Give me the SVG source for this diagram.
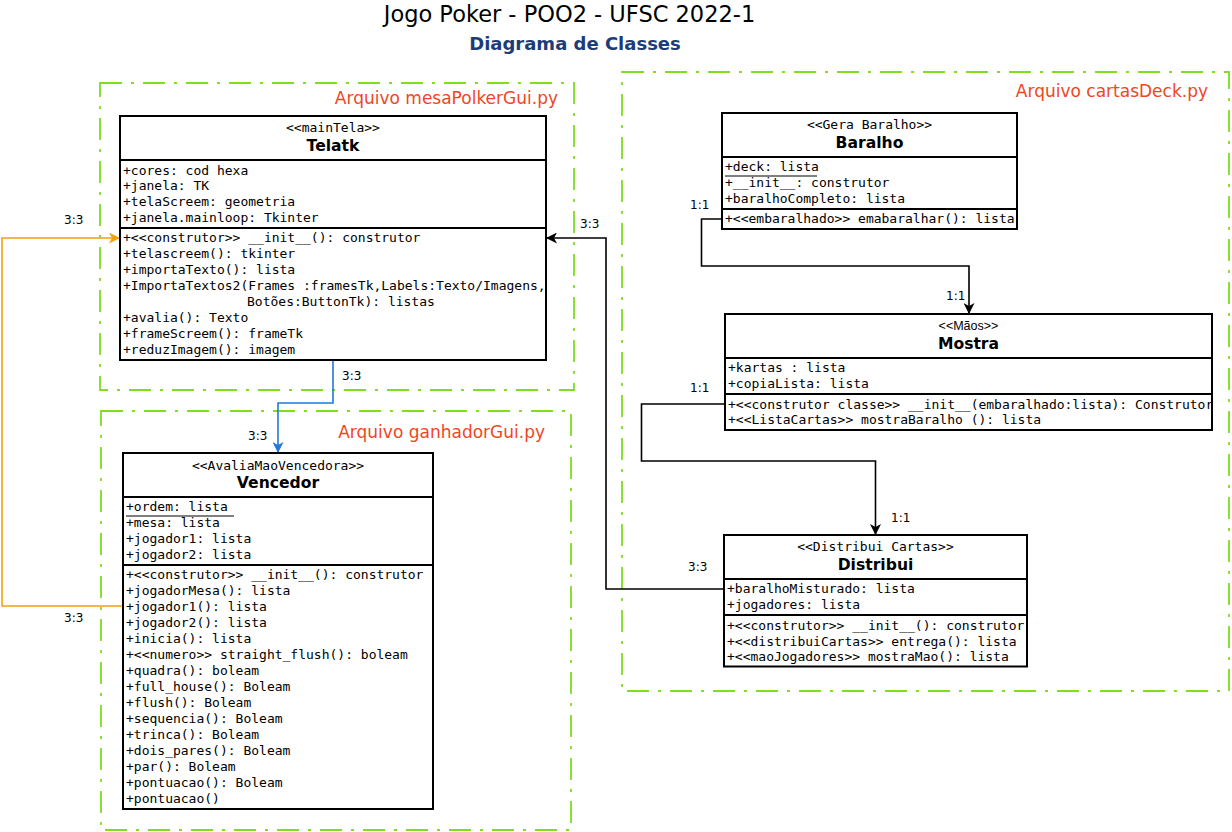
<svg xmlns="http://www.w3.org/2000/svg" width="1232" height="832" viewBox="0 0 1232 832">
  <defs>
    <style>
      .frame { fill: none; stroke: #80DD20; stroke-width: 1.8; stroke-dasharray: 22 9 3 9; }
      .file { font-family: "DejaVu Sans", sans-serif; font-size: 17px; fill: #F0461E; text-anchor: end; }
      .box { fill: #fff; stroke: #000; stroke-width: 2; }
      .sep { stroke: #000; stroke-width: 2; }
      .ul { stroke: #000; stroke-width: 1; }
      .m { font-family: "DejaVu Sans Mono", monospace; font-size: 13px; fill: #000; }
      .st { font-family: "DejaVu Sans Mono", monospace; font-size: 13px; fill: #000; text-anchor: middle; }
      .st2 { font-family: "Liberation Sans", sans-serif; font-size: 12.5px; fill: #000; text-anchor: middle; }
      .nm { font-family: "DejaVu Sans", sans-serif; font-size: 15.6px; font-weight: bold; fill: #000; text-anchor: middle; }
      .lbl { font-family: "DejaVu Sans", sans-serif; font-size: 12px; fill: #000; }
      .edge { fill: none; stroke-width: 1.6; }
    </style>
    <marker id="arrBlack" viewBox="0 0 11 11" refX="11" refY="5.5" markerWidth="11" markerHeight="11" markerUnits="userSpaceOnUse" orient="auto">
      <path d="M0,0 L11,5.5 L0,11 L3,5.5 Z" fill="#000"/>
    </marker>
    <marker id="arrOrange" viewBox="0 0 11 11" refX="11" refY="5.5" markerWidth="11" markerHeight="11" markerUnits="userSpaceOnUse" orient="auto">
      <path d="M0,0 L11,5.5 L0,11 L3,5.5 Z" fill="#F0A30A"/>
    </marker>
    <marker id="arrBlue" viewBox="0 0 11 11" refX="11" refY="5.5" markerWidth="11" markerHeight="11" markerUnits="userSpaceOnUse" orient="auto">
      <path d="M0,0 L11,5.5 L0,11 L3,5.5 Z" fill="#2378D8"/>
    </marker>
  </defs>

  <rect width="1232" height="832" fill="#fff"/>

  <!-- titles -->
  <text x="569.5" y="22" font-family="DejaVu Sans, sans-serif" font-size="22.5" text-anchor="middle" fill="#000">Jogo Poker - POO2 - UFSC 2022-1</text>
  <text x="575" y="50" font-family="DejaVu Sans, sans-serif" font-size="18" font-weight="bold" text-anchor="middle" fill="#1C3C78">Diagrama de Classes</text>

  <!-- file frames -->
  <g id="frame-mesa">
    <rect class="frame" x="100" y="83" width="474" height="307"/>
    <text class="file" x="558" y="104">Arquivo mesaPolkerGui.py</text>
  </g>
  <g id="frame-ganhador">
    <rect class="frame" x="101" y="411" width="470" height="419"/>
    <text class="file" x="545" y="438">Arquivo ganhadorGui.py</text>
  </g>
  <g id="frame-cartas">
    <rect class="frame" x="622" y="72" width="607" height="619"/>
    <text class="file" x="1208" y="97">Arquivo cartasDeck.py</text>
  </g>

  <!-- connectors -->
  <g id="connectors">
    <path class="edge" stroke="#F0A30A" d="M123,606 H2 V238 H120" marker-end="url(#arrOrange)"/>
    <text class="lbl" x="64" y="224">3:3</text>
    <text class="lbl" x="64" y="622">3:3</text>

    <path class="edge" stroke="#2378D8" d="M333,360 V403 H278 V453" marker-end="url(#arrBlue)"/>
    <text class="lbl" x="342" y="380">3:3</text>
    <text class="lbl" x="248" y="440">3:3</text>

    <path class="edge" stroke="#000" d="M724,589 H606 V238 H546" marker-end="url(#arrBlack)"/>
    <text class="lbl" x="580" y="228">3:3</text>
    <text class="lbl" x="688" y="571">3:3</text>

    <path class="edge" stroke="#000" d="M722,219 H701.5 V266 H969 V314" marker-end="url(#arrBlack)"/>
    <text class="lbl" x="690" y="209">1:1</text>
    <text class="lbl" x="946" y="300">1:1</text>

    <path class="edge" stroke="#000" d="M725,404 H641.5 V461 H875.5 V535" marker-end="url(#arrBlack)"/>
    <text class="lbl" x="690" y="392">1:1</text>
    <text class="lbl" x="891" y="522">1:1</text>
  </g>

  <!-- class Telatk -->
  <g id="telatk">
    <rect class="box" x="120" y="116" width="426" height="244"/>
    <line class="sep" x1="120" y1="160" x2="546" y2="160"/>
    <line class="sep" x1="120" y1="228" x2="546" y2="228"/>
    <text class="st" x="333" y="132">&lt;&lt;mainTela&gt;&gt;</text>
    <text class="nm" x="333" y="151">Telatk</text>
    <text class="m" x="123" y="174.5">+cores: cod hexa</text>
    <text class="m" x="123" y="190">+janela: TK</text>
    <text class="m" x="123" y="206">+telaScreem: geometria</text>
    <text class="m" x="123" y="222">+janela.mainloop: Tkinter</text>
    <text class="m" x="123" y="242">+&lt;&lt;construtor&gt;&gt; __init__(): construtor</text>
    <text class="m" x="123" y="258">+telascreem(): tkinter</text>
    <text class="m" x="123" y="274">+importaTexto(): lista</text>
    <text class="m" x="123" y="290">+ImportaTextos2(Frames :framesTk,Labels:Texto/Imagens,</text>
    <text class="m" x="247" y="306">Botões:ButtonTk): listas</text>
    <text class="m" x="123" y="322">+avalia(): Texto</text>
    <text class="m" x="123" y="338">+frameScreem(): frameTk</text>
    <text class="m" x="123" y="354">+reduzImagem(): imagem</text>
  </g>

  <!-- class Vencedor -->
  <g id="vencedor">
    <rect class="box" x="123" y="453" width="310" height="356"/>
    <line class="sep" x1="123" y1="497" x2="433" y2="497"/>
    <line class="sep" x1="123" y1="565" x2="433" y2="565"/>
    <text class="st" x="278" y="469.5">&lt;&lt;AvaliaMaoVencedora&gt;&gt;</text>
    <text class="nm" x="278" y="488">Vencedor</text>
    <text class="m" x="126" y="511">+ordem: lista</text>
    <line class="ul" x1="126" y1="516" x2="234" y2="516"/>
    <text class="m" x="126" y="527">+mesa: lista</text>
    <text class="m" x="126" y="543">+jogador1: lista</text>
    <text class="m" x="126" y="559">+jogador2: lista</text>
    <text class="m" x="126" y="579">+&lt;&lt;construtor&gt;&gt; __init__(): construtor</text>
    <text class="m" x="126" y="595">+jogadorMesa(): lista</text>
    <text class="m" x="126" y="611">+jogador1(): lista</text>
    <text class="m" x="126" y="627">+jogador2(): lista</text>
    <text class="m" x="126" y="643">+inicia(): lista</text>
    <text class="m" x="126" y="659">+&lt;&lt;numero&gt;&gt; straight_flush(): boleam</text>
    <text class="m" x="126" y="675">+quadra(): boleam</text>
    <text class="m" x="126" y="691">+full_house(): Boleam</text>
    <text class="m" x="126" y="707">+flush(): Boleam</text>
    <text class="m" x="126" y="723">+sequencia(): Boleam</text>
    <text class="m" x="126" y="739">+trinca(): Boleam</text>
    <text class="m" x="126" y="755">+dois_pares(): Boleam</text>
    <text class="m" x="126" y="771">+par(): Boleam</text>
    <text class="m" x="126" y="787">+pontuacao(): Boleam</text>
    <text class="m" x="126" y="803">+pontuacao()</text>
  </g>

  <!-- class Baralho -->
  <g id="baralho">
    <rect class="box" x="722" y="113" width="295" height="116"/>
    <line class="sep" x1="722" y1="157" x2="1017" y2="157"/>
    <line class="sep" x1="722" y1="209" x2="1017" y2="209"/>
    <text class="st" x="869.5" y="129">&lt;&lt;Gera Baralho&gt;&gt;</text>
    <text class="nm" x="869.5" y="148">Baralho</text>
    <text class="m" x="725" y="171">+deck: lista</text>
    <line class="ul" x1="725" y1="176" x2="817" y2="176"/>
    <text class="m" x="725" y="187">+__init__: construtor</text>
    <text class="m" x="725" y="203">+baralhoCompleto: lista</text>
    <text class="m" x="725" y="223">+&lt;&lt;embaralhado&gt;&gt; emabaralhar(): lista</text>
  </g>

  <!-- class Mostra -->
  <g id="mostra">
    <rect class="box" x="725" y="314" width="487" height="116"/>
    <line class="sep" x1="725" y1="358" x2="1212" y2="358"/>
    <line class="sep" x1="725" y1="394" x2="1212" y2="394"/>
    <text class="st2" x="968.5" y="330">&lt;&lt;Mãos&gt;&gt;</text>
    <text class="nm" x="968.5" y="349">Mostra</text>
    <text class="m" x="728" y="372">+kartas : lista</text>
    <text class="m" x="728" y="388">+copiaLista: lista</text>
    <text class="m" x="728" y="408.5">+&lt;&lt;construtor classe&gt;&gt; __init__(embaralhado:lista): Construtor</text>
    <text class="m" x="728" y="424">+&lt;&lt;ListaCartas&gt;&gt; mostraBaralho (): lista</text>
  </g>

  <!-- class Distribui -->
  <g id="distribui">
    <rect class="box" x="724" y="535" width="303" height="131.5"/>
    <line class="sep" x1="724" y1="579" x2="1027" y2="579"/>
    <line class="sep" x1="724" y1="615" x2="1027" y2="615"/>
    <text class="st" x="875.5" y="551">&lt;&lt;Distribui Cartas&gt;&gt;</text>
    <text class="nm" x="875.5" y="570">Distribui</text>
    <text class="m" x="727" y="593">+baralhoMisturado: lista</text>
    <text class="m" x="727" y="609">+jogadores: lista</text>
    <text class="m" x="727" y="629.5">+&lt;&lt;construtor&gt;&gt; __init__(): construtor</text>
    <text class="m" x="727" y="645.5">+&lt;&lt;distribuiCartas&gt;&gt; entrega(): lista</text>
    <text class="m" x="727" y="661">+&lt;&lt;maoJogadores&gt;&gt; mostraMao(): lista</text>
  </g>
</svg>
